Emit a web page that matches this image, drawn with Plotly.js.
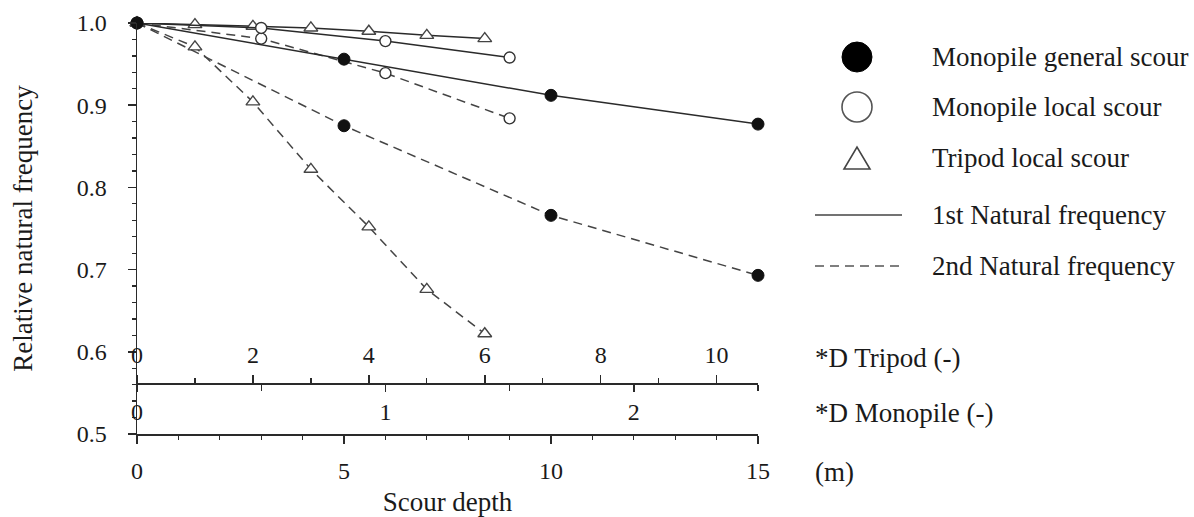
<!DOCTYPE html>
<html>
<head>
<meta charset="utf-8">
<script src="https://cdn.plot.ly/plotly-3.0.1.min.js"></script>
<style>html,body{margin:0;padding:0;background:#fff;}#chart{width:1194px;height:517px;}</style>
</head>
<body>
<div id="chart"></div>
<script>
// ---- Data (scour depth in m, relative natural frequency) ----
const generalDepth = [0, 5, 10, 15];
const general1st   = [1.000, 0.956, 0.912, 0.877];
const general2nd   = [1.000, 0.875, 0.766, 0.693];

const localDepth   = [0, 3, 6, 9];
const local1st     = [1.000, 0.994, 0.978, 0.958];
const local2nd     = [1.000, 0.981, 0.939, 0.884];

const tripodDepth  = [0, 1.4, 2.8, 4.2, 5.6, 7.0, 8.4];
const tripod1st    = [1.000, 0.998, 0.996, 0.994, 0.990, 0.985, 0.981];
const tripod2nd    = [1.000, 0.971, 0.904, 0.822, 0.752, 0.676, 0.622];

const depthTicks     = [0, 5, 10, 15];
const monopileDTicks = [0, 1, 2];
const tripodDTicks   = [0, 2, 4, 6, 8, 10];

const legendMarkerLabels = ["Monopile general scour", "Monopile local scour", "Tripod local scour"];
const legendLineLabels   = ["1st Natural frequency", "2nd Natural frequency"];
const axisLabels = ["*D Tripod (-)", "*D Monopile (-)", "(m)"];

// ---- Layout helpers ----
const L = 137, R = 758, T = 23, B = 434, W = 1194, H = 517;
const px2x = p => (p - L) / (R - L);
const py2y = p => (B - p) / (B - T);
const FONT = "Liberation Serif, Times New Roman, serif";
const TXT = "#1a1a1a";
const LINE = "#2a2a2a";
const DASH = "9px,6px";

function trace(x, y, dash, sym) {
  const m = {size: 12, color: "#111", line: {color: "#111", width: 1}};
  if (sym === "open") { m.color = "#fff"; m.line = {color: "#333", width: 1.4}; m.size = 11; }
  if (sym === "tri") { m.symbol = "triangle-up"; m.color = "#fff"; m.line = {color: "#444", width: 1.4}; m.size = 12; }
  return {
    x: x, y: y, type: "scatter", mode: "lines+markers", xaxis: "x", yaxis: "y",
    line: {color: dash ? "#444" : LINE, width: 1.5, dash: dash ? DASH : "solid"},
    marker: m, cliponaxis: false, showlegend: false, hoverinfo: "x+y"
  };
}

const data = [
  trace(tripodDepth, tripod2nd, true, "tri"),
  trace(localDepth, local2nd, true, "open"),
  trace(generalDepth, general2nd, true, "fill"),
  trace(tripodDepth, tripod1st, false, "tri"),
  trace(localDepth, local1st, false, "open"),
  trace(generalDepth, general1st, false, "fill"),
];

const subPos = py2y(383);
const tickFont = {family: FONT, size: 24, color: TXT};
const textFont = {family: FONT, size: 27, color: TXT};

const annotations = [];
const legendY = [57, 107, 158];
legendMarkerLabels.forEach((t, i) => annotations.push({
  text: t, xref: "paper", yref: "paper", x: px2x(930), y: py2y(legendY[i]),
  xanchor: "left", yanchor: "middle", showarrow: false, font: textFont
}));
const lineY = [215, 266];
legendLineLabels.forEach((t, i) => annotations.push({
  text: t, xref: "paper", yref: "paper", x: px2x(930), y: py2y(lineY[i]),
  xanchor: "left", yanchor: "middle", showarrow: false, font: textFont
}));
const labY = [358, 413, 472];
axisLabels.forEach((t, i) => annotations.push({
  text: t, xref: "paper", yref: "paper", x: px2x(813), y: py2y(labY[i]),
  xanchor: "left", yanchor: "middle", showarrow: false, font: textFont
}));

const shapes = [
  {type: "circle", xref: "paper", yref: "paper", xsizemode: "pixel", ysizemode: "pixel",
   xanchor: px2x(857), yanchor: py2y(57), x0: -15, x1: 15, y0: -15, y1: 15,
   fillcolor: "#000", line: {color: "#000", width: 1}},
  {type: "circle", xref: "paper", yref: "paper", xsizemode: "pixel", ysizemode: "pixel",
   xanchor: px2x(857), yanchor: py2y(107), x0: -15, x1: 15, y0: -15, y1: 15,
   fillcolor: "#fff", line: {color: "#555", width: 1.6}},
  {type: "path", xref: "paper", yref: "paper", xsizemode: "pixel", ysizemode: "pixel",
   xanchor: px2x(857), yanchor: py2y(158), path: "M-13,-11 L13,-11 L0,11 Z",
   fillcolor: "#fff", line: {color: "#444", width: 1.6}},
  {type: "line", xref: "paper", yref: "paper", x0: px2x(815), x1: px2x(902), y0: py2y(215), y1: py2y(215),
   line: {color: "#444", width: 1.5}},
  {type: "line", xref: "paper", yref: "paper", x0: px2x(815), x1: px2x(902), y0: py2y(266), y1: py2y(266),
   line: {color: "#555", width: 1.5, dash: DASH}},
];

const layout = {
  width: W, height: H,
  margin: {l: L, r: W - R, t: T, b: H - B, pad: 0},
  paper_bgcolor: "#fff", plot_bgcolor: "#fff",
  showlegend: false,
  font: {family: FONT, color: TXT},
  xaxis: {
    range: [0, 15], tickvals: depthTicks, ticktext: depthTicks.map(String),
    showgrid: false, zeroline: false, showline: true, linecolor: LINE, linewidth: 1.5,
    ticks: "outside", ticklen: 8, tickwidth: 1.5, tickcolor: LINE,
    minor: {dtick: 1, ticks: "outside", ticklen: 4, tickwidth: 1.3, tickcolor: LINE},
    tickfont: tickFont, ticklabelstandoff: 7,
    title: {text: "Scour depth", font: textFont, standoff: 14},
    fixedrange: true
  },
  xaxis2: {
    overlaying: "x", anchor: "free", position: subPos, side: "bottom",
    range: [0, 2.5], tickvals: monopileDTicks, ticktext: monopileDTicks.map(String),
    showgrid: false, zeroline: false, showline: true, linecolor: LINE, linewidth: 1.5,
    ticks: "outside", ticklen: 7, tickwidth: 1.5, tickcolor: LINE,
    minor: {dtick: 0.5, ticks: "outside", ticklen: 6, tickwidth: 1.3, tickcolor: LINE},
    tickfont: tickFont, ticklabelstandoff: 0, fixedrange: true
  },
  xaxis3: {
    overlaying: "x", anchor: "free", position: subPos, side: "top",
    range: [0, 15 / 1.4], tickvals: tripodDTicks, ticktext: tripodDTicks.map(String),
    showgrid: false, zeroline: false, showline: true, linecolor: LINE, linewidth: 1.5,
    ticks: "outside", ticklen: 8, tickwidth: 1.5, tickcolor: LINE,
    minor: {dtick: 1, ticks: "outside", ticklen: 5, tickwidth: 1.3, tickcolor: LINE},
    tickfont: tickFont, ticklabelstandoff: 2, fixedrange: true
  },
  yaxis: {
    range: [0.5, 1.0], dtick: 0.1, tick0: 0.5, tickformat: ".1f",
    showgrid: false, zeroline: false, showline: true, linecolor: LINE, linewidth: 1.5,
    ticks: "outside", ticklen: 8, tickwidth: 1.5, tickcolor: LINE,
    minor: {dtick: 0.02, ticks: "outside", ticklen: 4, tickwidth: 1.3, tickcolor: LINE},
    tickfont: tickFont, ticklabelstandoff: 16,
    title: {text: "Relative natural frequency", font: textFont, standoff: 36},
    fixedrange: true
  },
  annotations: annotations,
  shapes: shapes
};

// dummy traces to activate overlay axes
data.push({x: [0], y: [null], xaxis: "x2", yaxis: "y", type: "scatter", mode: "markers", showlegend: false, hoverinfo: "skip"});
data.push({x: [0], y: [null], xaxis: "x3", yaxis: "y", type: "scatter", mode: "markers", showlegend: false, hoverinfo: "skip"});

Plotly.newPlot("chart", data, layout, {displayModeBar: false, staticPlot: true});
</script>
</body>
</html>
